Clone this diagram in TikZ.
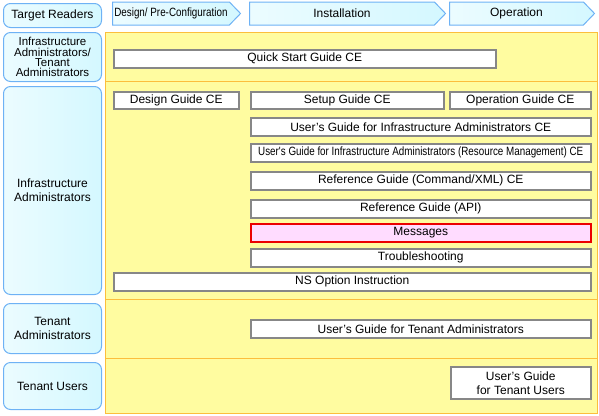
\documentclass[tikz,border=0pt]{standalone}
\usepackage{fontspec}
\setmainfont{Liberation Sans}
\newfontfamily\narrowfont[FakeStretch=0.82]{Liberation Sans}
\usetikzlibrary{shapes.symbols}
\definecolor{readerFill}{RGB}{212,248,255}
\definecolor{readerDraw}{RGB}{110,178,245}
\definecolor{bandFill}{RGB}{255,252,160}
\definecolor{bandDraw}{RGB}{252,190,60}
\definecolor{docDraw}{RGB}{135,135,135}
\definecolor{msgFill}{RGB}{255,220,255}
\definecolor{msgDraw}{RGB}{235,0,0}
\tikzset{
  reader/.style={draw=readerDraw, line width=1pt, rounded corners=7pt,
                 left color=readerFill!45, right color=readerFill,
                 align=center, anchor=north west, inner sep=0pt,
                 minimum width=98pt},
  phase/.style={signal, signal to=east, signal pointer angle=92,
                draw=readerDraw, line width=1pt,
                left color=readerFill!45, right color=readerFill,
                anchor=west, inner sep=0pt, minimum height=23pt},
  band/.style={draw=bandDraw, line width=1pt, fill=bandFill,
               anchor=north west, inner sep=0pt, minimum width=492pt},
  doc/.style={draw=docDraw, line width=1.5pt, fill=white, align=center,
              anchor=north west, inner sep=0pt, minimum height=18pt},
  msgdoc/.style={doc, draw=msgDraw, fill=msgFill},
}
\begin{document}
\begin{tikzpicture}[x=1pt, y=-1pt, font=\fontsize{12}{14}\selectfont]
  \useasboundingbox (0,0) rectangle (599,415);

  % ----- target readers -----
  \node[reader, minimum height=24pt] (rdhead) at (3,3) {Target Readers};
  \node[reader, minimum height=49pt, font=\fontsize{11.5}{10.2}\selectfont] (rdboth) at (3,32)
       {Infrastructure\\ Administrators/\\ Tenant\\ Administrators};
  \node[reader, minimum height=208pt] (rdinfra) at (3,86) {Infrastructure\\ Administrators};
  \node[reader, minimum height=50pt] (rdtenadm) at (3,303) {Tenant\\ Administrators};
  \node[reader, minimum height=47pt] (rdtenusr) at (3,362) {Tenant Users};

  % ----- phases -----
  \node[phase, minimum width=128pt, font=\narrowfont\fontsize{12}{14}\selectfont] (phdesign) at (112,13.5)
       {Design/ Pre-Configuration};
  \node[phase, minimum width=196pt] (phinst) at (249,13.5) {Installation};
  \node[phase, minimum width=145pt] (phoper) at (449,13.5) {Operation};

  % ----- bands -----
  \node[band, minimum height=49pt] (bdboth) at (105,32) {};
  \node[band, minimum height=218pt] (bdinfra) at (105,81) {};
  \node[band, minimum height=59pt] (bdtenadm) at (105,299) {};
  \node[band, minimum height=55pt] (bdtenusr) at (105,358) {};

  % ----- manuals -----
  \node[doc, minimum width=382pt] (qsg) at (113,49) {Quick Start Guide CE};
  \node[doc, minimum width=125pt, minimum height=17pt] (dsg) at (113,91) {Design Guide CE};
  \node[doc, minimum width=193pt, minimum height=17pt] (stg) at (250,91) {Setup Guide CE};
  \node[doc, minimum width=141pt, minimum height=17pt] (opg) at (449,91) {Operation Guide CE};
  \node[doc, minimum width=340pt] (ugia) at (250,117) {User's Guide for Infrastructure Administrators CE};
  \node[doc, minimum width=340pt, font=\narrowfont\fontsize{12}{14}\selectfont] (ugrm) at (250,143)
       {User's Guide for Infrastructure Administrators (Resource Management) CE};
  \node[doc, minimum width=340pt] (rgcx) at (250,171) {Reference Guide (Command/XML) CE};
  \node[doc, minimum width=340pt] (rgapi) at (250,199) {Reference Guide (API)};
  \node[msgdoc, minimum width=340pt] (msg) at (250,223) {Messages};
  \node[doc, minimum width=340pt] (trbl) at (250,248) {Troubleshooting};
  \node[doc, minimum width=477pt] (nsopt) at (113,272) {NS Option Instruction};
  \node[doc, minimum width=340pt] (ugta) at (250,319) {User's Guide for Tenant Administrators};
  \node[doc, minimum width=140pt, minimum height=32pt] (ugtu) at (450,366) {User's Guide\\ for Tenant Users};
\end{tikzpicture}
\end{document}
